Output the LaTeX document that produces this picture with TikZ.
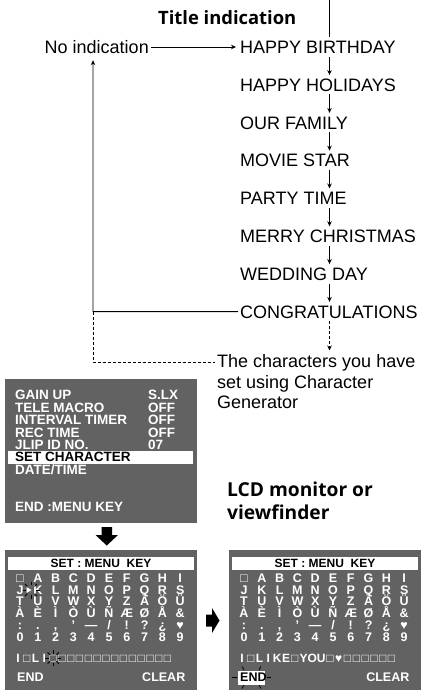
\documentclass[tikz,border=0pt]{standalone}
\usepackage{fontspec}
\setmainfont{Liberation Sans}
\newfontfamily\headfont[Ligatures=NoCommon]{Open Sans}
\usetikzlibrary{arrows.meta}
\definecolor{scr}{RGB}{98,98,98}
\newcommand\gcomma{,}
\newcommand\sparkle[3]{\foreach \a in {0,45,...,315}{\draw[spk] (#1,#2) ++(\a:#3) -- ++(\a:3.5);}}
\newcommand\charscreen[1]{%
  \fill[scr] (5,550) rectangle (197,690);
  \fill[white] (8,557) rectangle (194,570);
  \node[font=\bfseries\fontsize{12}{12}\selectfont,anchor=base] (#1h) at (101,567.8) {SET : MENU\ \ KEY};
  \foreach \row [count=\r from 0] in {{□,A,B,C,D,E,F,G,H,I},{J,K,L,M,N,O,P,Q,R,S},{T,U,V,W,X,Y,Z,Ä,Ö,Ü},{À,È,Ì,Ò,Ù,Ñ,Æ,Ø,Å,\&},{:,.,\gcomma,',—,/,!,?,¿,♥},{0,1,2,3,4,5,6,7,8,9}}{%
    \foreach \c [count=\i from 0] in \row {\node[gch] (#1-\r-\i) at ({20+17.8*\i},{582.3+11.8*\r}) {\c};}}
  \node[gch,anchor=base east] (#1clr) at (185.5,681.5) {CLEAR};
}
\begin{document}
\begin{tikzpicture}[x=1pt,y=-1pt,
  every node/.style={inner sep=0pt},
  lbl/.style={font=\fontsize{18}{20.5}\selectfont},
  item/.style={lbl,anchor=west,text height=13pt,text depth=0pt,inner ysep=3pt,inner xsep=2pt},
  arr/.style={-{Stealth[length=5pt,width=4.5pt]},line width=0.9pt},
  ln/.style={line width=0.9pt},
  dsh/.style={line width=0.9pt,dash pattern=on 3pt off 2pt},
  ttl/.style={font=\headfont\bfseries\fontsize{18.4}{24}\selectfont,anchor=base west},
  mtx/.style={font=\bfseries\fontsize{13.5}{13.5}\selectfont,text=white,anchor=base west,text height=9.7pt,text depth=0pt},
  gch/.style={font=\bfseries\fontsize{12.5}{12.5}\selectfont,text=white,anchor=base},
  ich/.style={font=\bfseries\fontsize{12}{12}\selectfont,text=white,anchor=base},
  spk/.style={line width=0.8pt,black}]
\useasboundingbox[fill=white] (0,0) rectangle (425,690);

% ---------- title indication flow ----------
\node[ttl] (title) at (158,25) {Title indication};
\coordinate (topc) at (329.5,0);
\foreach \t [count=\k] in {HAPPY BIRTHDAY,HAPPY HOLIDAYS,OUR FAMILY,MOVIE STAR,PARTY TIME,MERRY CHRISTMAS,WEDDING DAY,CONGRATULATIONS}
  \node[item] (i\k) at (238,{47+37.8*(\k-1)}) {\t};
\node[lbl,anchor=east,text height=13pt,text depth=0pt,inner ysep=3pt,inner xsep=2pt] (ni) at (151,47) {No indication};
\draw[line width=1.8pt] (topc) -- (i1.north -| topc);
\foreach \a/\b in {1/2,2/3,3/4,4/5,5/6,6/7,7/8}
  \draw[arr] (i\a.south -| topc) -- (i\b.north -| topc);
\draw[arr,shorten >=2pt] (ni.east) -- (i1.west);
\coordinate (lc) at (93,311.6);
\draw[arr,shorten >=3.5pt] (i8.west) -- (lc) -- (lc |- ni.south);
\node[lbl,anchor=north west,align=left] (note) at (217,354.5) {The characters you have\\set using Character\\Generator};
\coordinate (dl) at (215,362);
\draw[dsh] (lc) |- (dl);
\draw[arr,dsh,shorten >=4pt] (i8.south -| topc) -- (note.north -| topc);

% ---------- menu screen ----------
\fill[scr] (5,379) rectangle (197,523);
\foreach \t/\v [count=\k] in {GAIN UP/S.LX,TELE MACRO/OFF,INTERVAL TIMER/OFF,REC TIME/OFF,JLIP ID NO./07}{
  \node[mtx] (ma\k) at (15,{399.8+12.4*(\k-1)}) {\t};
  \node[mtx] (mb\k) at (148,{399.8+12.4*(\k-1)}) {\v};}
\fill[white] (8,450.5) rectangle (193,463.5);
\node[mtx,text=black] (ma6) at (15,461.8) {SET CHARACTER};
\node[mtx] (ma7) at (15,474.2) {DATE/TIME};
\node[mtx] (ma8) at (15,511.4) {END :MENU KEY};

\node[ttl,font=\headfont\bfseries\fontsize{19.2}{24}\selectfont] (lcd1) at (227,496.5) {LCD monitor or};
\node[ttl,font=\headfont\bfseries\fontsize{19.2}{24}\selectfont] (lcd2) at (227,519.5) {viewfinder};

% block arrows
\fill (101.5,527) -- (112,527) -- (112,535) -- (118,535) -- (106.75,545.5) -- (95.5,535) -- (101.5,535) -- cycle;
\fill (206,614.5) -- (212,614.5) -- (212,608) -- (219.5,620.5) -- (212,633) -- (212,626.5) -- (206,626.5) -- cycle;

% ---------- character screen 1 ----------
\charscreen{a}
\node[gch,anchor=base west] (aend) at (17,681.5) {END};
\foreach \c [count=\i from 0] in {I,□,L,I,□,□,□,□,□,□,□,□,□,□,□,□,□,□}
  \node[ich] (ain\i) at ({18+8.8*\i},662.2) {\c};
\fill[white] (26.5,587) -- (26.5,593) -- (31.5,590) -- cycle;
\sparkle{31}{590}{5}
\sparkle{53.2}{658}{4.5}

% ---------- character screen 2 ----------
\begin{scope}[xshift=224pt]
\charscreen{b}
\fill[white] (14,670.5) rectangle (41,684.5);
\node[gch,anchor=base west,text=black] (bend) at (16,681.5) {END};
\foreach \c [count=\i from 0] in {I,□,L,I,K,E,□,Y,O,U,□,♥,□,□,□,□,□,□}
  \node[ich] (bin\i) at ({18+8.8*\i},662.2) {\c};
\draw[spk] (8,677.5) -- (12.5,677.5);
\draw[spk] (42.5,677.5) -- (47,677.5);
\draw[spk] (20,670) -- (18,666.5);
\draw[spk] (35,670) -- (37,666.5);
\draw[spk] (20,685) -- (18,688.5);
\draw[spk] (35,685) -- (37,688.5);
\end{scope}
\end{tikzpicture}
\end{document}
